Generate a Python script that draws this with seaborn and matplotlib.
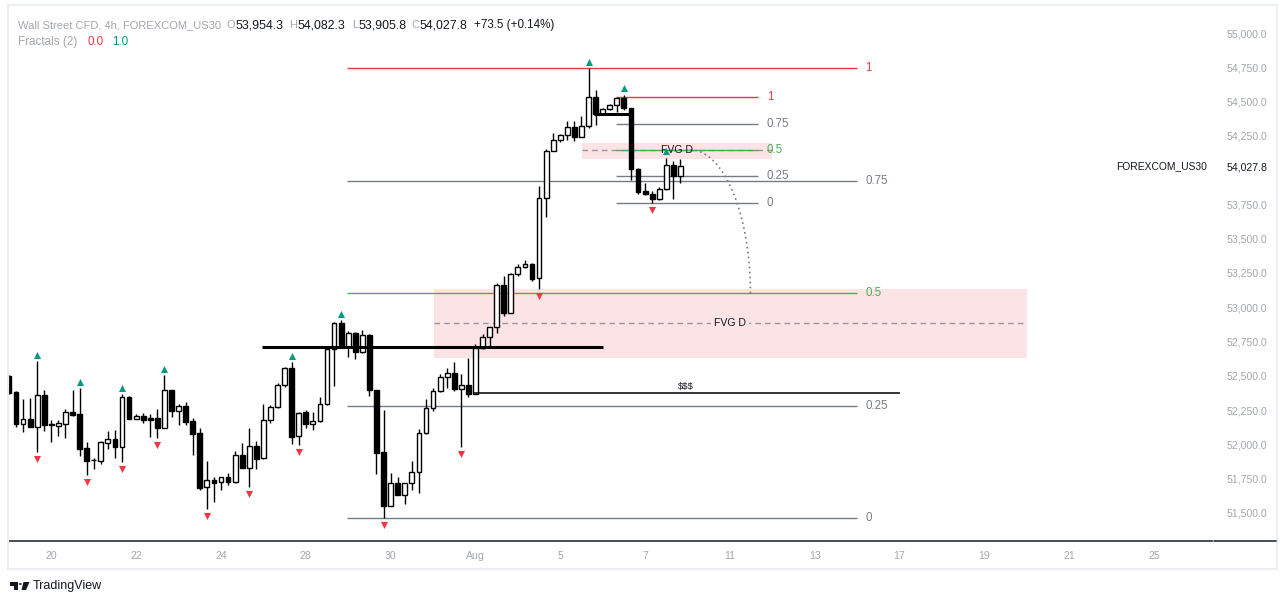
import numpy as np
import matplotlib
matplotlib.use("Agg")
import matplotlib.pyplot as plt
import matplotlib.transforms as mtransforms
from matplotlib.patches import Rectangle, Polygon, Circle
from matplotlib.lines import Line2D
import seaborn as sns

# 4h candles, Wall Street CFD (index 0 is the bar cut at the left edge)
opens = [52499,
         52382, 52151, 52183, 52129, 52358, 52149, 52137, 52151, 52234, 52220,
         51972, 51890, 51881, 52013, 52039, 51983, 52344, 52188, 52205, 52193,
         52190, 52122, 52395, 52246, 52278, 52171, 52081, 51687, 51738, 51724,
         51760, 51724, 51921, 51830, 51986, 51899, 52178, 52271, 52431, 52555,
         52059, 52234, 52147, 52169, 52293, 52694, 52883, 52713, 52810, 52672,
         52798, 52395, 51943, 51553, 51717, 51634, 51717, 51797, 52081, 52263,
         52390, 52489, 52519, 52406, 52431, 52370, 52701, 52781, 52854, 53163,
         52961, 53241, 53292, 53316, 53211, 53799, 54142, 54218, 54254, 54312,
         54244, 54324, 54531, 54407, 54444, 54473, 54524, 54451, 54011, 53848,
         53828, 53787, 53860, 54035, 53954.3]
highs = [52505,
         52390, 52331, 52336, 52608, 52395, 52178, 52178, 52256, 52395, 52411,
         52018, 51901, 52025, 52098, 52105, 52366, 52351, 52220, 52227, 52224,
         52256, 52506, 52398, 52295, 52309, 52193, 52120, 51877, 51760, 51762,
         51790, 51950, 52008, 52118, 52027, 52295, 52287, 52446, 52562, 52599,
         52233, 52249, 52234, 52344, 52705, 52893, 52907, 52827, 52818, 52834,
         52803, 52397, 52249, 51792, 51760, 51719, 51877, 52110, 52331, 52409,
         52513, 52555, 52599, 52511, 52628, 52731, 52803, 52856, 53175, 53228,
         53248, 53313, 53345, 53325, 53884, 54152, 54269, 54266, 54358, 54358,
         54397, 54743, 54584, 54451, 54480, 54531, 54548, 54453, 54013, 53908,
         53848, 53879, 54090, 54070, 54082.3]
lows = [52370,
        52129, 52093, 52124, 51945, 52100, 52020, 52061, 52049, 52209, 51918,
        51777, 51823, 51859, 51967, 51903, 51874, 52185, 52186, 52158, 52054,
        52045, 52120, 52202, 52142, 52142, 51925, 51670, 51532, 51583, 51670,
        51702, 51722, 51828, 51692, 51823, 51897, 52154, 52269, 52417, 52001,
        51994, 52122, 52103, 52167, 52291, 52428, 52714, 52640, 52621, 52670,
        52355, 51787, 51463, 51551, 51632, 51568, 51668, 51646, 52079, 52246,
        52382, 52409, 52392, 51983, 52348, 52368, 52699, 52713, 52815, 52937,
        52959, 53230, 53290, 53194, 53131, 53661, 54140, 54203, 54218, 54215,
        54242, 54310, 54329, 54405, 54439, 54426, 54439, 53928, 53824, 53819,
        53763, 53785, 53858, 53792, 53905.8]
closes = [52375,
          52151, 52183, 52129, 52358, 52144, 52142, 52154, 52234, 52217, 51969,
          51881, 51883, 52016, 52037, 51981, 52344, 52188, 52205, 52178, 52181,
          52122, 52395, 52246, 52278, 52163, 52078, 51684, 51738, 51721, 51760,
          51724, 51921, 51830, 51986, 51896, 52176, 52271, 52431, 52555, 52056,
          52231, 52149, 52169, 52293, 52694, 52883, 52716, 52810, 52672, 52796,
          52395, 51940, 51553, 51717, 51634, 51717, 51797, 52081, 52263, 52390,
          52489, 52519, 52406, 52431, 52370, 52701, 52781, 52854, 53163, 52961,
          53241, 53292, 53313, 53208, 53799, 54142, 54218, 54254, 54312, 54244,
          54324, 54531, 54407, 54444, 54473, 54524, 54451, 54011, 53843, 53828,
          53787, 53860, 54035, 53954.3, 54027.8]

# Fractals (2) bars
fractal_up = [4, 10, 16, 22, 40, 47, 82, 87, 93]
fractal_down = [4, 11, 16, 21, 28, 34, 41, 53, 64, 75, 91]

# time axis (bar index of each date label)
date_labels = ["20", "22", "24", "28", "30", "Aug", "5", "7", "11", "13", "17", "19", "21", "25"]
date_pos = [6, 18, 30, 42, 54, 66, 78, 90, 102, 114, 126, 138, 150, 162]

price_ticks = [51500, 51750, 52000, 52250, 52500, 52750, 53000, 53250, 53500, 53750,
               54250, 54500, 54750, 55000]

# drawings
fib_levels = [0, 0.25, 0.5, 0.75, 1]
fib_names = ["0", "0.25", "0.5", "0.75", "1"]
fib_cols = ["#787b86", "#787b86", "#4caf50", "#787b86", "#f23645"]
big_fib_x = (47.8, 120.0)
small_fib_x = (85.9, 106.0)
small_fib_top = 54531
big_fvg = dict(x0=60.1, x1=144.0, top=53134, bot=52632, mid=52885, text_x=102.0)
small_fvg = dict(x0=81.1, x1=108.0, top=54198, bot=54083, mid=54147, text_x=94.5)
thick_lines = [(52710, 35.8, 84.1), (54412, 82.7, 88.2)]
sss_line = (52373, 65.7, 126.1)
arc_start = (96.4, 54148)
arc_end = (104.9, 53103)

W, H = 1286, 604
GRAY = "#a3a6af"
INK = "#131722"
PINK = "#fce3e5"

sns.set_theme(style="white")
plt.rcParams['font.family'] = ['Liberation Sans', 'DejaVu Sans']

fig = plt.figure(figsize=(W / 100, H / 100), dpi=100)
fig.patch.set_facecolor("white")


def fx(px):
    return px / W


def fy(py):
    return 1 - py / H


ax = fig.add_axes([fx(9), fy(541), fx(1212) - fx(9), fy(6) - fy(541)])
ax.set_facecolor("white")
ax.set_xlim(0.01, 170.2)
ax.set_ylim(51295.8, 55196.9)

o = np.array(opens, float)
h = np.array(highs, float)
l = np.array(lows, float)
c = np.array(closes, float)
idx = np.arange(len(o))
bull = c >= o

# FVG zones
for z, box in ((big_fvg, True), (small_fvg, False)):
    ax.add_patch(Rectangle((z["x0"], z["bot"]), z["x1"] - z["x0"], z["top"] - z["bot"],
                           facecolor=PINK, edgecolor="none", zorder=1))
    ax.hlines(z["mid"], z["x0"], z["x1"], colors="#9598a1", linestyles=(0, (4, 3)), lw=1, zorder=1.5)
    kw = dict(bbox=dict(facecolor=PINK, edgecolor="none", pad=2)) if box else {}
    ax.text(z["text_x"], z["mid"], "FVG D", ha="center", va="center", fontsize=7.6,
            color=INK, zorder=6, **kw)


def draw_fib(lo, hi, x0, x1):
    for lev, name, col in zip(fib_levels, fib_names, fib_cols):
        p = lo + (hi - lo) * lev
        ax.hlines(p, x0, x1, colors=col, lw=1, zorder=2)
        ax.text(x1 + 1.2, p, name, color=col, fontsize=8.3, ha="left", va="center")


draw_fib(l[53], h[82], *big_fib_x)
draw_fib(l[91], small_fib_top, *small_fib_x)

# candles
ax.vlines(idx, l, h, colors="black", lw=1, zorder=3)
ax.bar(idx, np.maximum(np.abs(c - o), 6), bottom=np.minimum(o, c), width=0.68,
       color=np.where(bull, "white", "black"), edgecolor="black", linewidth=1, zorder=4)

# fractal markers
up_tr = mtransforms.offset_copy(ax.transData, fig=fig, x=0, y=6.5, units="dots")
dn_tr = mtransforms.offset_copy(ax.transData, fig=fig, x=0, y=-7, units="dots")
sns.scatterplot(x=idx[fractal_up], y=h[fractal_up], marker="^", color="#089981", s=26,
                linewidth=0, transform=up_tr, ax=ax, legend=False, zorder=6, clip_on=False)
sns.scatterplot(x=idx[fractal_down], y=l[fractal_down], marker="v", color="#f23645", s=26,
                linewidth=0, transform=dn_tr, ax=ax, legend=False, zorder=6, clip_on=False)

# structure lines
for p, x0, x1 in thick_lines:
    ax.hlines(p, x0, x1, colors="black", lw=2.2, zorder=5)
p, x0, x1 = sss_line
ax.hlines(p, x0, x1, colors="black", lw=1.1, zorder=5)
ax.text((x0 + x1) / 2 - 0.2, p + 14, r"\$\$\$", ha="center", va="bottom", fontsize=6.8, color=INK)

# projected path
t = np.linspace(0, np.pi / 2, 80)
ax.plot(arc_start[0] + (arc_end[0] - arc_start[0]) * np.sin(t),
        arc_end[1] + (arc_start[1] - arc_end[1]) * np.cos(t),
        color="#787b86", lw=1.2, ls=(0, (1, 2)), zorder=5)

# axes styling
last = c[-1]
yt = sorted(price_ticks + [last])
ax.yaxis.tick_right()
ax.set_yticks(yt)
ax.set_yticklabels([f"{v:,.1f}" for v in yt])
ax.tick_params(axis="y", length=0, pad=10.5, labelsize=7.6, labelcolor=GRAY)
for lab in ax.get_yticklabels():
    if lab.get_text() == f"{last:,.1f}":
        lab.set_color(INK)
ax.set_xticks(date_pos)
ax.set_xticklabels(date_labels)
ax.tick_params(axis="x", length=0, pad=7, labelsize=7.6, labelcolor=GRAY)
for s in ("top", "left", "right"):
    ax.spines[s].set_visible(False)
ax.spines["bottom"].set_color("#2a2e39")
ax.spines["bottom"].set_linewidth(1.2)
ax.grid(False)

blend = mtransforms.blended_transform_factory(ax.transAxes, ax.transData)
ax.text(0.9958, last, "FOREXCOM_US30", transform=blend, ha="right", va="center",
        fontsize=7.4, color=INK)

# price-scale base line and outer frame
fig.add_artist(Line2D([fx(1214), fx(1276)], [fy(541), fy(541)], color="#2a2e39", lw=1.2))
fig.add_artist(Rectangle((fx(8), fy(569)), fx(1277) - fx(8), fy(5) - fy(569),
                         transform=fig.transFigure, fill=False, edgecolor="#eceef2", lw=1.6))

# legend header
chg = c[-1] - c[-2]
pct = chg / c[-2] * 100
hdr = [(18.5, "Wall Street CFD, 4h, FOREXCOM_US30", GRAY, "left", 8.0),
       (235, "O", GRAY, "right", 8.0), (235.5, f"{o[-1]:,.1f}", INK, "left", 8.9),
       (297, "H", GRAY, "right", 8.0), (297.5, f"{h[-1]:,.1f}", INK, "left", 8.9),
       (358, "L", GRAY, "right", 8.0), (358.5, f"{l[-1]:,.1f}", INK, "left", 8.9),
       (419, "C", GRAY, "right", 8.0), (419.5, f"{c[-1]:,.1f}", INK, "left", 8.9),
       (474, f"{chg:+.1f} ({pct:+.2f}%)", INK, "left", 8.4)]
for x, s, col, ha, fs in hdr:
    fig.text(fx(x), fy(25), s, color=col, fontsize=fs, ha=ha, va="center")
for x, s, col in [(18.5, "Fractals (2)", GRAY), (87, "0.0", "#f23645"), (112, "1.0", "#089981")]:
    fig.text(fx(x), fy(42), s, color=col, fontsize=8.4, ha="left", va="center")

# TradingView mark
for pts in ([(10, 582), (18, 582), (18, 590), (14, 590), (14, 585.5), (10, 585.5)],
            [(23.5, 582), (29.5, 582), (26, 590), (21.5, 590)]):
    fig.add_artist(Polygon([(fx(a), fy(b)) for a, b in pts], closed=True,
                           transform=fig.transFigure, facecolor="#131722", edgecolor="none"))
fig.add_artist(Circle((fx(20.3), fy(584)), 1.7 / W, transform=fig.transFigure,
                      facecolor="#131722", edgecolor="none"))
fig.text(fx(32.5), fy(586), "TradingView", color=INK, fontsize=9, ha="left", va="center")

fig.savefig("out.png", dpi=100, facecolor="white")
